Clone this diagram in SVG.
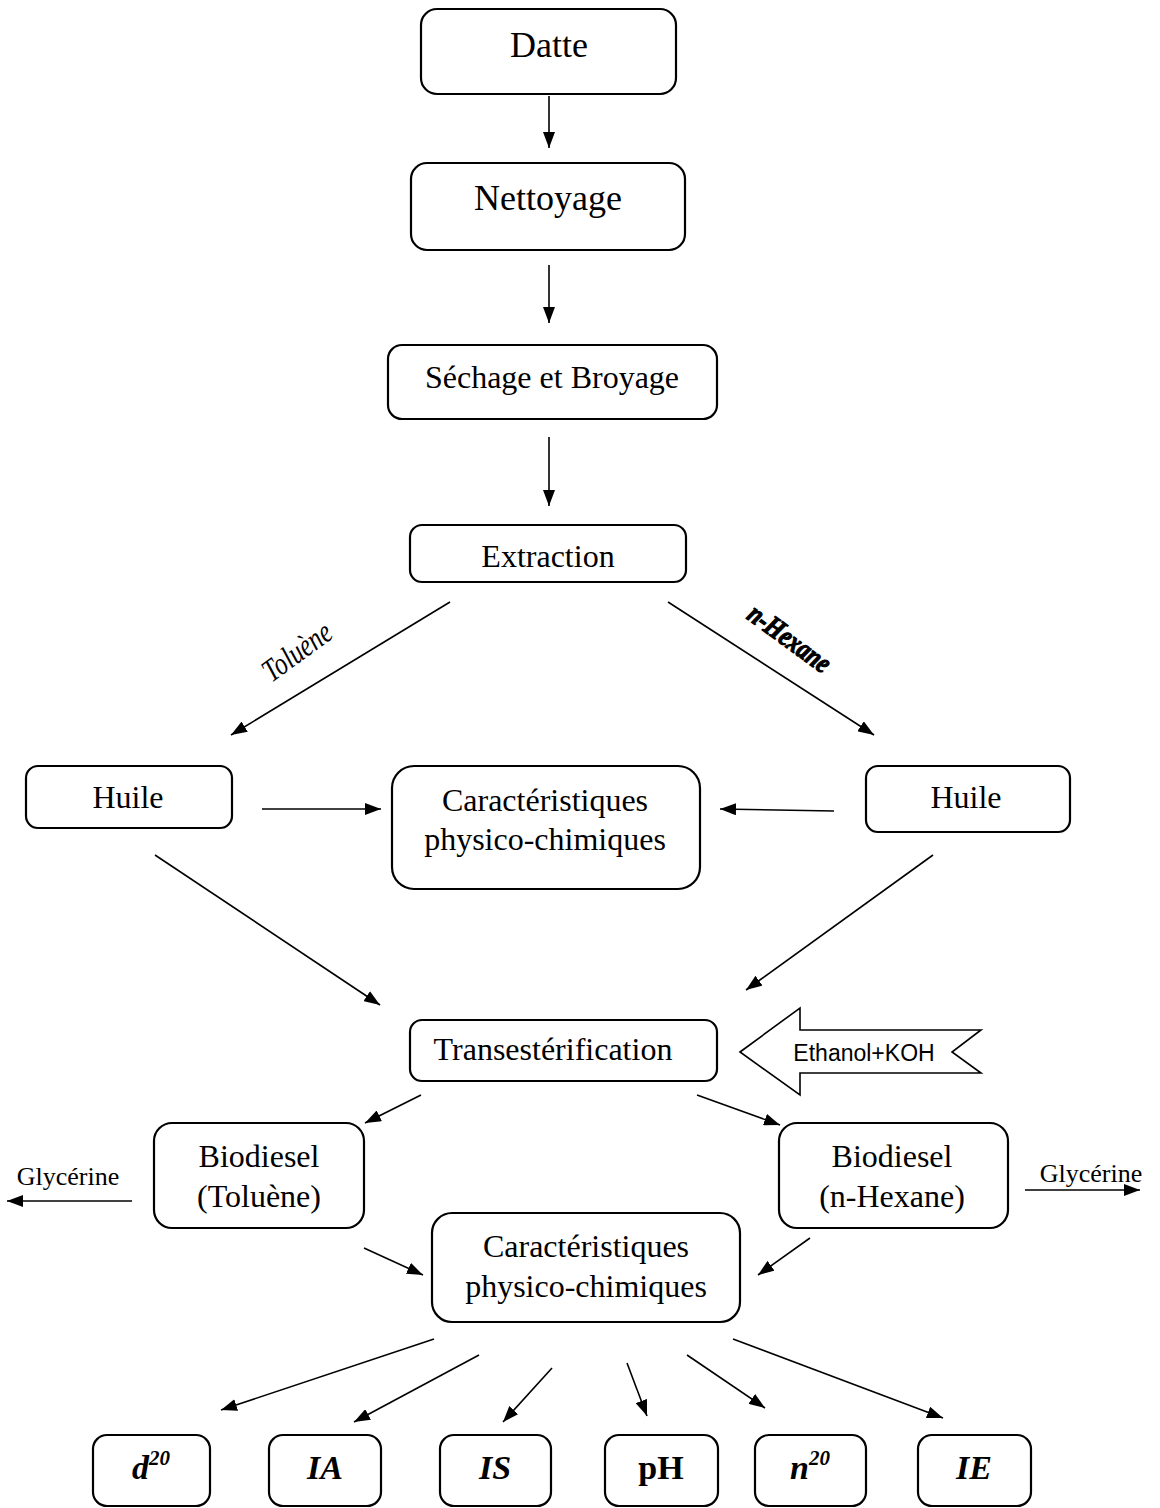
<svg xmlns="http://www.w3.org/2000/svg" width="1160" height="1508" viewBox="0 0 1160 1508">
<defs>
<marker id="ah" viewBox="0 0 16 12" refX="16" refY="6" markerWidth="16" markerHeight="12" orient="auto" markerUnits="userSpaceOnUse">
<path d="M0,0 L16,6 L0,12 z" fill="#000"/>
</marker>
</defs>
<style>
.box{fill:#fff;stroke:#000;stroke-width:2.2}
.t{font-family:"Liberation Serif","Times New Roman",serif;font-size:32px;fill:#000;text-anchor:middle}
.s{font-family:"Liberation Serif","Times New Roman",serif;font-size:26px;fill:#000;text-anchor:middle}
.p{font-family:"Liberation Serif","Times New Roman",serif;font-size:34px;font-weight:bold;font-style:italic;fill:#000;text-anchor:middle}
.c line{stroke:#000;stroke-width:1.6;marker-end:url(#ah)}
</style>
<rect width="1160" height="1508" fill="#fff"/>

<g id="n-datte"><rect class="box" x="421" y="9" width="255" height="85" rx="16"/><text class="t" x="549" y="57" style="font-size:36px">Datte</text></g>
<g id="n-nettoyage"><rect class="box" x="411" y="163" width="274" height="87" rx="16"/><text class="t" x="548" y="210" style="font-size:36px">Nettoyage</text></g>
<g id="n-sechage"><rect class="box" x="388" y="345" width="329" height="74" rx="14"/><text class="t" x="552" y="388">Séchage et Broyage</text></g>
<g id="n-extraction"><rect class="box" x="410" y="525" width="276" height="57" rx="12"/><text class="t" x="548" y="567">Extraction</text></g>

<g id="l-toluene"><text transform="translate(303,660) rotate(-36) scale(0.78,1)" style="font-family:'Liberation Serif',serif;font-style:italic;font-size:32px;text-anchor:middle">Toluène</text></g>
<g id="l-hexane"><text transform="translate(784,646) rotate(36) scale(0.8,1)" style="font-family:'Liberation Serif',serif;font-style:italic;font-weight:bold;font-size:29px;text-anchor:middle;stroke:#000;stroke-width:1.2">n-Hexane</text></g>

<g id="n-huile-l"><rect class="box" x="26" y="766" width="206" height="62" rx="12"/><text class="t" x="128" y="808">Huile</text></g>
<g id="n-carac-1"><rect class="box" x="392" y="766" width="308" height="123" rx="22"/><text class="t" x="545" y="811">Caractéristiques</text><text class="t" x="545" y="850">physico-chimiques</text></g>
<g id="n-huile-r"><rect class="box" x="866" y="766" width="204" height="66" rx="12"/><text class="t" x="966" y="808">Huile</text></g>

<g id="n-trans"><rect class="box" x="410" y="1020" width="307" height="61" rx="12"/><text class="t" x="553" y="1060">Transestérification</text></g>
<g id="n-ethanol"><polygon points="740,1052 800,1008 800,1030 981,1030 952,1052 981,1073 800,1073 800,1095" fill="#fff" stroke="#000" stroke-width="1.6"/><text x="864" y="1061" style="font-family:'Liberation Sans',Arial,sans-serif;font-size:23px;text-anchor:middle">Ethanol+KOH</text></g>

<g id="n-bio-l"><rect class="box" x="154" y="1123" width="210" height="105" rx="18"/><text class="t" x="259" y="1167">Biodiesel</text><text class="t" x="259" y="1207">(Toluène)</text></g>
<g id="n-bio-r"><rect class="box" x="779" y="1123" width="229" height="105" rx="18"/><text class="t" x="892" y="1167">Biodiesel</text><text class="t" x="892" y="1207">(n-Hexane)</text></g>
<g id="l-gly-l"><text class="s" x="68" y="1185">Glycérine</text></g>
<g id="l-gly-r"><text class="s" x="1091" y="1182">Glycérine</text></g>

<g id="n-carac-2"><rect class="box" x="432" y="1213" width="308" height="109" rx="20"/><text class="t" x="586" y="1257">Caractéristiques</text><text class="t" x="586" y="1297">physico-chimiques</text></g>

<g id="n-d20"><rect class="box" x="93" y="1435" width="117" height="71" rx="14"/><text class="p" x="151" y="1479">d<tspan dy="-14" style="font-size:21px">20</tspan></text></g>
<g id="n-ia"><rect class="box" x="269" y="1435" width="112" height="71" rx="14"/><text class="p" x="325" y="1479">IA</text></g>
<g id="n-is"><rect class="box" x="440" y="1435" width="111" height="71" rx="14"/><text class="p" x="495" y="1479">IS</text></g>
<g id="n-ph"><rect class="box" x="605" y="1435" width="113" height="71" rx="14"/><text class="p" x="661" y="1479" style="font-style:normal">pH</text></g>
<g id="n-n20"><rect class="box" x="755" y="1435" width="111" height="71" rx="14"/><text class="p" x="810" y="1479">n<tspan dy="-14" style="font-size:21px">20</tspan></text></g>
<g id="n-ie"><rect class="box" x="918" y="1435" width="113" height="71" rx="14"/><text class="p" x="974" y="1479">IE</text></g>

<g id="connectors" class="c">
<line x1="549" y1="96" x2="549" y2="148"/>
<line x1="549" y1="265" x2="549" y2="323"/>
<line x1="549" y1="437" x2="549" y2="506"/>
<line x1="450" y1="602" x2="231" y2="735"/>
<line x1="668" y1="602" x2="874" y2="735"/>
<line x1="262" y1="809" x2="381" y2="809"/>
<line x1="834" y1="811" x2="720" y2="809"/>
<line x1="155" y1="855" x2="380" y2="1005"/>
<line x1="933" y1="855" x2="746" y2="990"/>
<line x1="421" y1="1095" x2="365" y2="1123"/>
<line x1="697" y1="1095" x2="780" y2="1125"/>
<line x1="132" y1="1201" x2="7" y2="1201"/>
<line x1="1025" y1="1190" x2="1140" y2="1190"/>
<line x1="364" y1="1248" x2="423" y2="1275"/>
<line x1="810" y1="1238" x2="758" y2="1275"/>
<line x1="434" y1="1339" x2="221" y2="1410"/>
<line x1="479" y1="1355" x2="354" y2="1422"/>
<line x1="552" y1="1368" x2="503" y2="1422"/>
<line x1="627" y1="1363" x2="647" y2="1416"/>
<line x1="687" y1="1355" x2="765" y2="1408"/>
<line x1="733" y1="1339" x2="943" y2="1418"/>
</g>
</svg>
